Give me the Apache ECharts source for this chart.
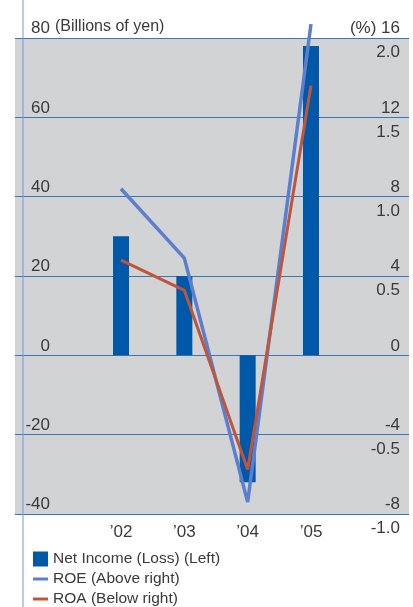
<!DOCTYPE html>
<html>
<head>
<meta charset="utf-8">
<script src="https://cdn.jsdelivr.net/npm/echarts@6/dist/echarts.min.js"></script>
<style>
html,body{margin:0;padding:0;background:#fff;}
#c{width:413px;height:607px;}
</style>
</head>
<body>
<div id="c"></div>
<script>
const categories = ['\u201902', '\u201903', '\u201904', '\u201905'];
const netIncome = [30, 20, -32, 78];
const roe = [8.4, 4.9, -7.4, 16.7];
const roa = [0.60, 0.41, -0.72, 1.70];
const leftTicks = { min: -40, max: 80, interval: 20 };
const roeTicks = { min: -8, max: 16, interval: 4 };
const roaTicks = { min: -1, max: 2, interval: 0.5 };

const FONT = '"Liberation Sans", Arial, sans-serif';
const TXT = '#3a3a3a';
const FS = 17;

const chart = echarts.init(document.getElementById('c'));
const gTop = 38, gBottom = 93;
chart.setOption({
  animation: false,
  textStyle: { fontFamily: FONT },
  title: {
    text: '(Billions of yen)',
    left: 55, top: 19, padding: 0,
    textStyle: { fontFamily: FONT, fontSize: 16, fontWeight: 'normal', color: TXT }
  },
  graphic: [{
    type: 'line', z: 100,
    shape: { x1: 23, y1: 0, x2: 23, y2: 607 },
    style: { stroke: '#6e9bd0', lineWidth: 1 }
  }],
  legend: {
    orient: 'vertical', left: 33, top: 551, padding: 0, height: 80,
    itemWidth: 15, itemHeight: 15, itemGap: 4, symbolKeepAspect: true,
    textStyle: { fontFamily: FONT, fontSize: 15.5, lineHeight: 15, color: TXT },
    data: [
      { name: 'Net Income (Loss) (Left)', icon: 'rect' },
      { name: 'ROE (Above right)', icon: 'path://M0,0L15,0L15,3L0,3Z' },
      { name: 'ROA (Below right)', icon: 'path://M0,0L15,0L15,3L0,3Z' }
    ]
  },
  grid: [
    { left: 15, right: 4, top: gTop, bottom: gBottom, show: true, backgroundColor: '#d2d3d5', borderWidth: 0 },
    { left: 89.35, right: 70.35, top: gTop, bottom: gBottom }
  ],
  xAxis: [
    { gridIndex: 0, type: 'value', min: 0, max: 1, show: false },
    {
      gridIndex: 1, type: 'category', data: categories,
      axisLine: { show: false }, axisTick: { show: false },
      axisLabel: { margin: 10, fontFamily: FONT, fontSize: FS, color: TXT }
    }
  ],
  yAxis: [
    {
      gridIndex: 0, type: 'value', position: 'left', min: leftTicks.min, max: leftTicks.max, interval: leftTicks.interval,
      axisLine: { show: false }, axisTick: { show: false },
      splitLine: { show: true, lineStyle: { color: '#3a74bb', width: 1.2 } },
      axisLabel: { margin: -35, align: 'right', verticalAlign: 'bottom', padding: [0, 0, 1, 0], fontFamily: FONT, fontSize: FS, color: TXT }
    },
    {
      gridIndex: 0, type: 'value', position: 'right', min: roeTicks.min, max: roeTicks.max, interval: roeTicks.interval,
      axisLine: { show: false }, axisTick: { show: false }, splitLine: { show: false },
      axisLabel: {
        margin: -9, align: 'right', verticalAlign: 'bottom', padding: [0, 0, 1, 0], fontFamily: FONT, fontSize: FS, color: TXT,
        formatter: v => v === 16 ? '(%) 16' : String(v)
      }
    },
    {
      gridIndex: 0, type: 'value', position: 'right', min: roaTicks.min, max: roaTicks.max, interval: roaTicks.interval,
      axisLine: { show: false }, axisTick: { show: false }, splitLine: { show: false },
      axisLabel: {
        margin: -9, align: 'right', verticalAlign: 'top', padding: [6, 0, 0, 0], fontFamily: FONT, fontSize: FS, color: TXT,
        formatter: v => v === 0 ? '' : v.toFixed(1)
      }
    },
    { gridIndex: 1, type: 'value', min: leftTicks.min, max: leftTicks.max, interval: leftTicks.interval, show: false, splitLine: { show: false } },
    { gridIndex: 1, type: 'value', min: roeTicks.min, max: roeTicks.max, interval: roeTicks.interval, show: false, splitLine: { show: false } },
    { gridIndex: 1, type: 'value', min: roaTicks.min, max: roaTicks.max, interval: roaTicks.interval, show: false, splitLine: { show: false } }
  ],
  series: [
    {
      name: 'Net Income (Loss) (Left)', type: 'bar', xAxisIndex: 1, yAxisIndex: 3,
      data: netIncome, barWidth: 16, itemStyle: { color: '#0058a9' }, z: 2
    },
    {
      name: 'ROE (Above right)', type: 'line', xAxisIndex: 1, yAxisIndex: 4,
      data: roe, symbol: 'none', clip: false, z: 3,
      lineStyle: { color: '#5b7fcc', width: 3.5 }, itemStyle: { color: '#5b7fcc' }
    },
    {
      name: 'ROA (Below right)', type: 'line', xAxisIndex: 1, yAxisIndex: 5,
      data: roa, symbol: 'none', clip: false, z: 4,
      lineStyle: { color: '#c0553a', width: 3 }, itemStyle: { color: '#c0553a' }
    }
  ]
});
</script>
</body>
</html>
